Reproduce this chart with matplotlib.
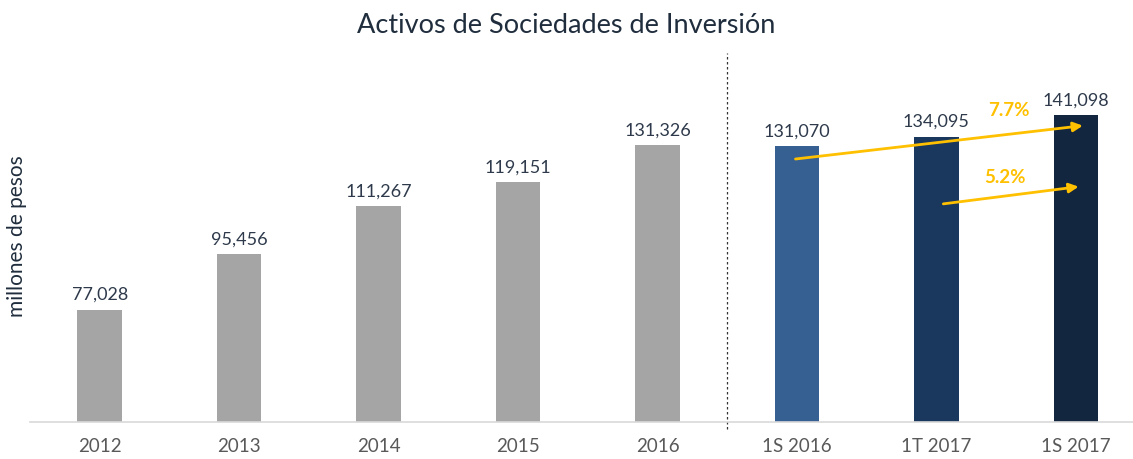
import numpy as np
import matplotlib.pyplot as plt

categories = ['2012', '2013', '2014', '2015', '2016', '1S 2016', '1T 2017', '1S 2017']
values = [77028, 95456, 111267, 119151, 131326, 131070, 134095, 141098]
colors = ['#A5A5A5'] * 5 + ['#366092', '#1A375E', '#12263F']
growth_labels = ['7.7%', '5.2%']

plt.rcParams['font.family'] = ['Lato', 'DejaVu Sans']

fig = plt.figure(figsize=(11.33, 4.6), dpi=100)
ax = fig.add_axes([30 / 1133, 0.0804, 1 - 30 / 1133, 0.7913])

x = np.arange(len(categories))
ax.bar(x, values, width=0.32, color=colors, zorder=2)
for xi, v in zip(x, values):
    ax.text(xi, v + 2500, f'{v:,}', ha='center', va='bottom',
            fontsize=13, color='#2E3A4B')

ax.set_xlim(-0.5, 7.41)
ax.set_ylim(40000, 160000)
ax.set_xticks(x)
ax.set_xticklabels(categories, fontsize=13.5, color='#595959')
ax.tick_params(axis='x', length=0, pad=11)
ax.set_yticks([])
for s in ['top', 'right', 'left']:
    ax.spines[s].set_visible(False)
ax.spines['bottom'].set_color('#D9D9D9')
ax.spines['bottom'].set_linewidth(1.2)

# separator between yearly and period data
ax.axvline(4.5, ymin=-0.02, ymax=1.014, color='#333333', linestyle=(0, (2, 2)),
           linewidth=0.9, clip_on=False)

# growth arrows
arrow_kw = dict(arrowstyle='-|>', color='#FFC000', lw=2, mutation_scale=14)
ax.annotate('', xy=(7.07, 137800), xytext=(4.97, 126600), arrowprops=arrow_kw)
ax.annotate('', xy=(7.04, 117700), xytext=(6.03, 111800), arrowprops=arrow_kw)
ax.text(6.52, 143000, growth_labels[0], ha='center', va='center', fontsize=13.5,
        fontweight='bold', color='#FFC000')
ax.text(6.49, 121000, growth_labels[1], ha='center', va='center', fontsize=13.5,
        fontweight='bold', color='#FFC000')

fig.text(0.5, 0.945, 'Activos de Sociedades de Inversión', ha='center', va='center',
         fontsize=19.5, color='#1F2D3D')
fig.text(17 / 1133, 0.487, 'millones de pesos', rotation=90, ha='center', va='center',
         fontsize=15, color='#1F2D3D')

fig.savefig('out.png', dpi=100)
